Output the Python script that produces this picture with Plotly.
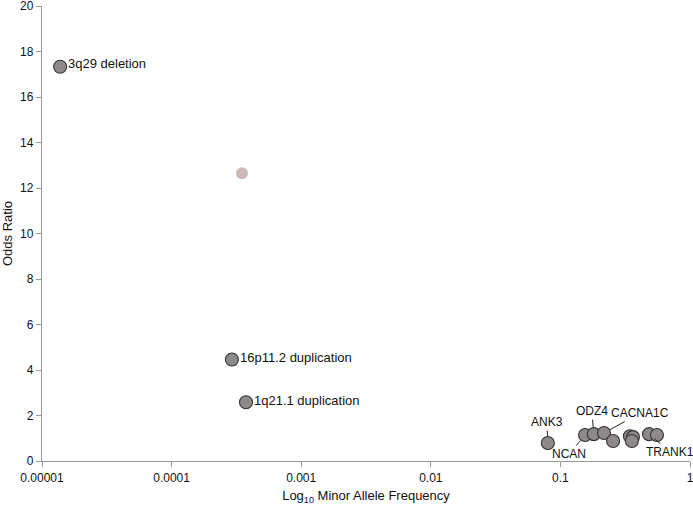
import math
import plotly.graph_objects as go

# Data
labels = ["3q29 deletion", "16p11.2 duplication", "1q21.1 duplication",
          "ANK3", "NCAN", "ODZ4", "CACNA1C", "", "", "", "", "TRANK1", ""]
maf = [1.38e-5, 2.92e-4, 3.75e-4,
       0.080, 0.155, 0.181, 0.217, 0.255, 0.344, 0.363, 0.356, 0.483, 0.556]
odds = [17.33, 4.46, 2.58,
        0.79, 1.14, 1.18, 1.23, 0.88, 1.09, 1.05, 0.88, 1.18, 1.14]

extra_maf = [3.49e-4]
extra_odds = [12.65]

xtick_vals = [1e-5, 1e-4, 1e-3, 1e-2, 1e-1, 1]
xtick_text = ["0.00001", "0.0001", "0.001", "0.01", "0.1", "1"]
ytick_vals = list(range(0, 21, 2))

fig = go.Figure()
fig.add_trace(go.Scatter(
    x=extra_maf, y=extra_odds, mode="markers",
    marker=dict(size=12, color="#cdb9b9", line=dict(width=0)),
    hoverinfo="skip", showlegend=False))
fig.add_trace(go.Scatter(
    x=maf, y=odds, mode="markers",
    marker=dict(size=13, color="#8f8a8a", line=dict(width=1.1, color="#333333")),
    showlegend=False))

font = dict(family="Liberation Sans, Arial, sans-serif", size=12, color="#111111")
lfont = dict(family="Liberation Sans, Arial, sans-serif", size=13, color="#111111")

annots = []
# Plain labels to the right of the big CNV points
for i in range(3):
    annots.append(dict(x=math.log10(maf[i]), y=odds[i], text=labels[i],
                       showarrow=False, xanchor="left", yanchor="middle",
                       xshift=6, yshift=3 if i == 0 else 2, font=lfont))
# Labels with leader lines for the gene points
offsets = {"ANK3": (-1, -21), "NCAN": (-16, 19), "ODZ4": (-2, -23),
           "CACNA1C": (36, -20), "TRANK1": (21, 18)}
for i in range(3, len(maf)):
    lab = labels[i]
    if lab in offsets:
        ax, ay = offsets[lab]
        annots.append(dict(x=math.log10(maf[i]), y=odds[i], text=lab,
                           showarrow=True, arrowhead=0, arrowwidth=1,
                           arrowcolor="#222222", ax=ax, ay=ay, standoff=7,
                           font=font))

fig.update_layout(
    width=693, height=505,
    margin=dict(l=42, r=3, t=6, b=44),
    paper_bgcolor="white", plot_bgcolor="white",
    font=font,
    annotations=annots,
    xaxis=dict(type="log", range=[-5, 0], tickvals=xtick_vals, ticktext=xtick_text,
               showgrid=False, zeroline=False, showline=True, linecolor="#999999",
               linewidth=1.3, ticks="outside", ticklen=5, tickcolor="#999999",
               tickfont=font, ticklabeloverflow="allow", automargin=False,
               title=dict(text="Log<sub>10</sub> Minor Allele Frequency", font=lfont, standoff=7)),
    yaxis=dict(range=[0, 20], tickvals=ytick_vals, showgrid=False, zeroline=False,
               showline=True, linecolor="#999999", linewidth=1.3, ticks="outside",
               ticklen=5, tickcolor="#999999", tickfont=font, ticklabeloverflow="allow",
               automargin=False,
               title=dict(text="Odds Ratio", font=lfont, standoff=4)),
)

fig.write_html("out.html", config={"displayModeBar": False},
               post_script="document.body.style.margin='0';document.body.style.overflow='hidden';")
